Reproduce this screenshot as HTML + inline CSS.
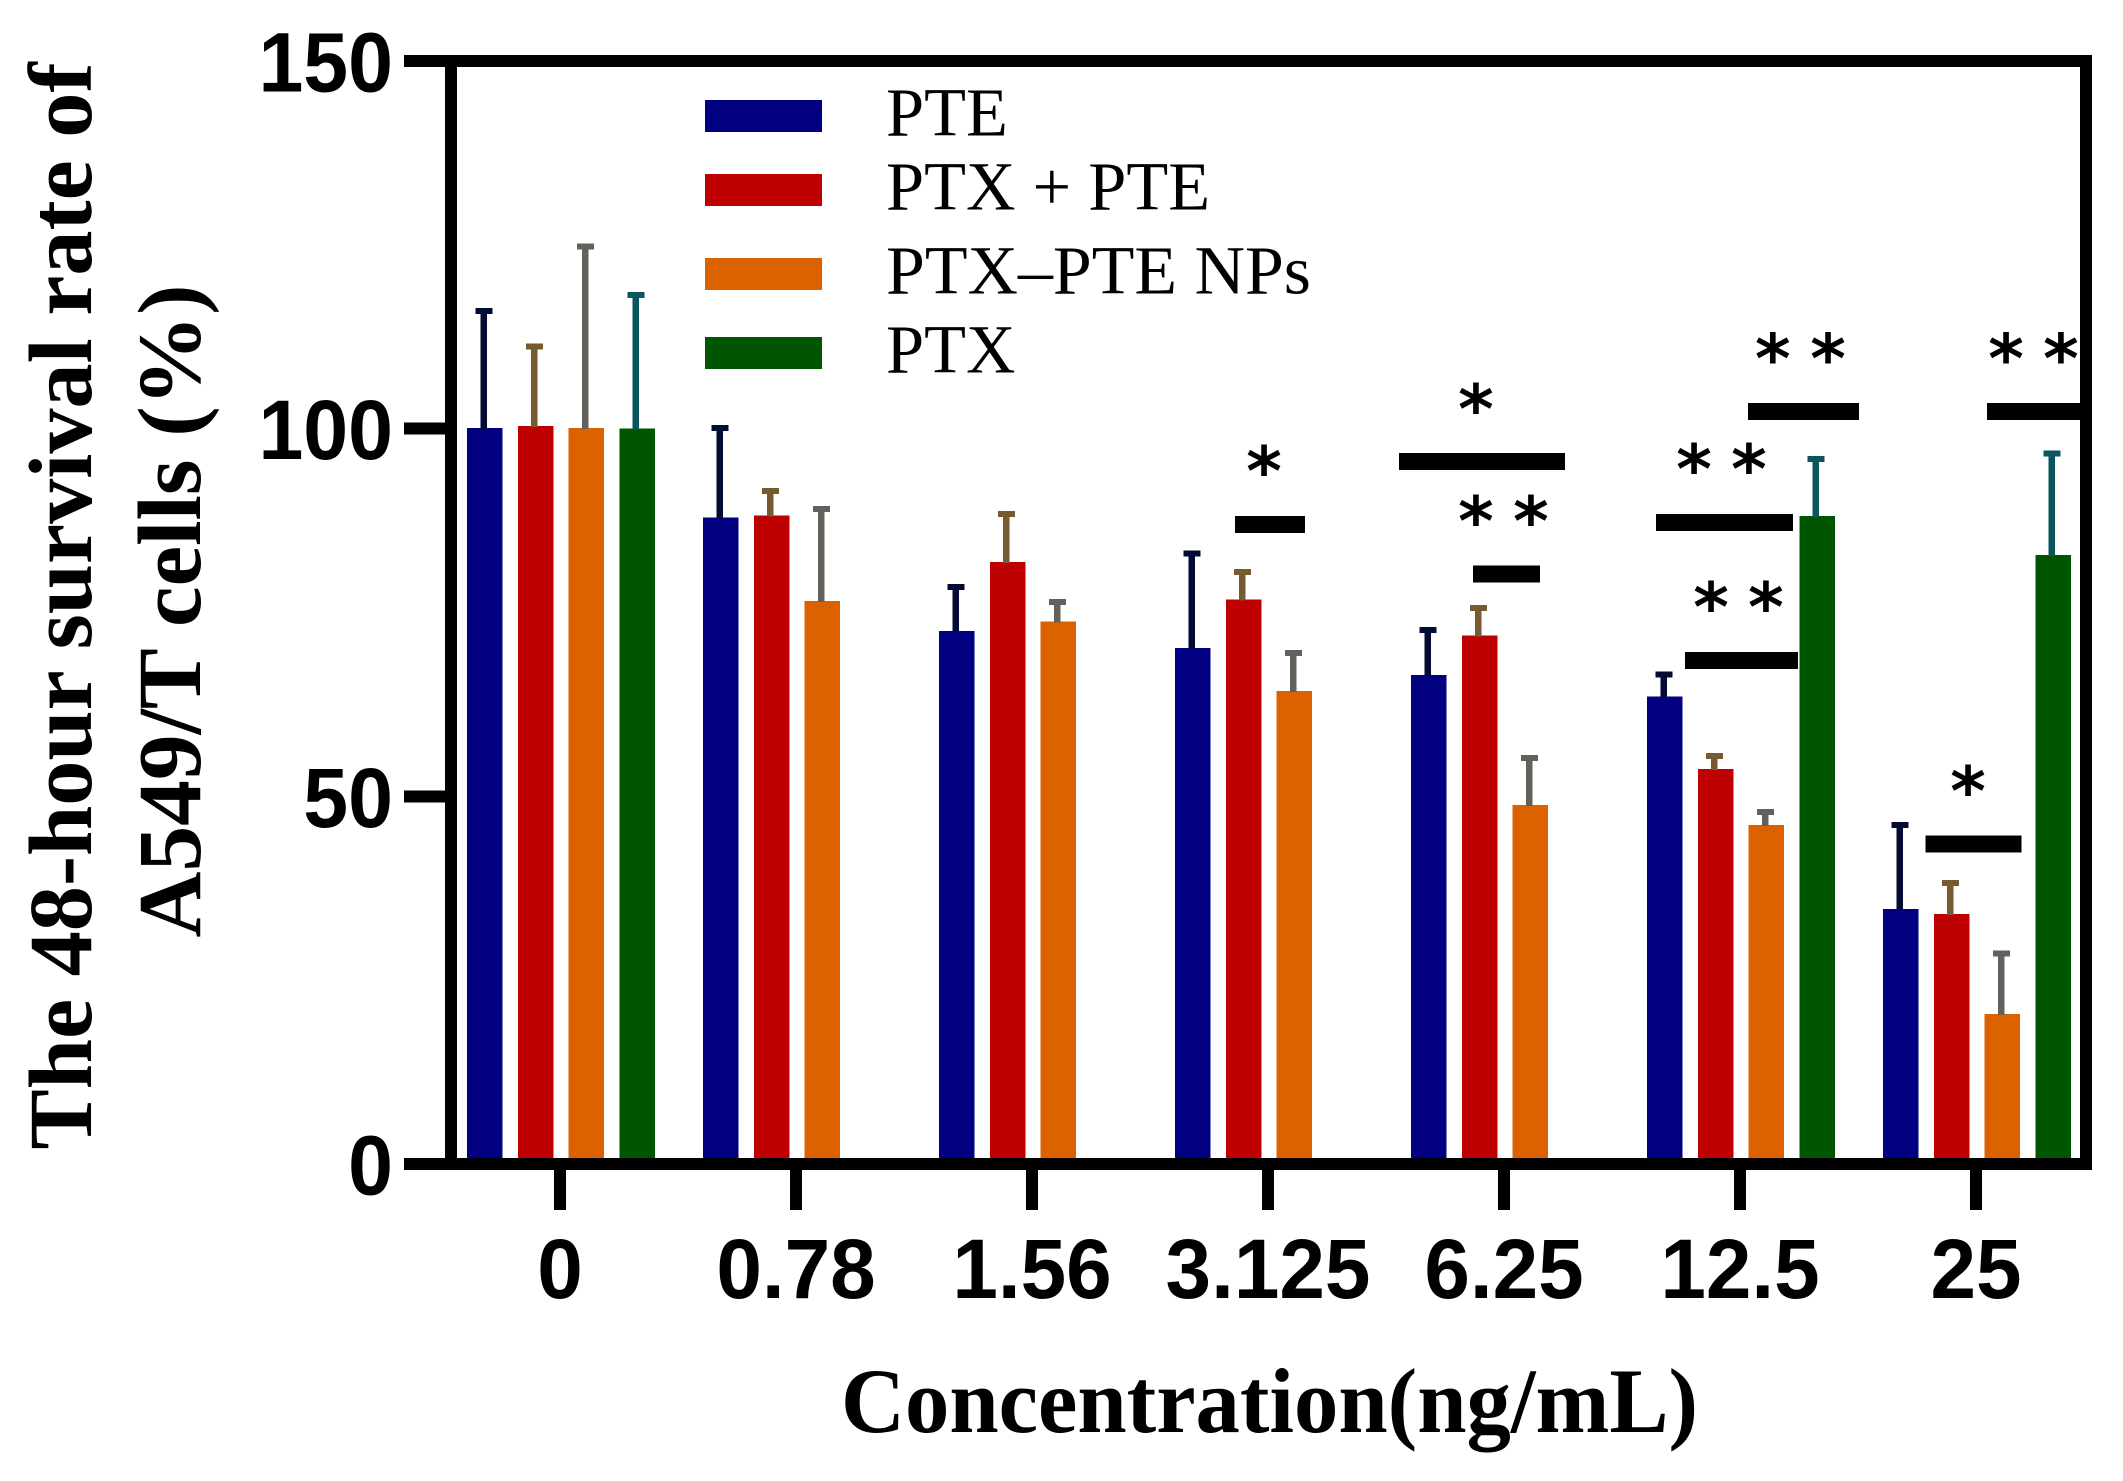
<!DOCTYPE html>
<html>
<head>
<meta charset="utf-8">
<title>48-hour survival rate of A549/T cells</title>
<style>
html,body{margin:0;padding:0;background:#fff;}
svg{display:block;}
rect{shape-rendering:crispEdges;}
.sans{font-family:"Liberation Sans",Arial,sans-serif;font-weight:700;}
.serif{font-family:"Liberation Serif","Times New Roman",serif;}
.star{font-family:"DejaVu Sans",sans-serif;font-weight:700;}
</style>
</head>
<body>
<svg id="chart" xmlns="http://www.w3.org/2000/svg" width="2123" height="1481" viewBox="0 0 2123 1481">
  <rect x="0" y="0" width="2123" height="1481" fill="#fff"/>
  <g id="bars"></g>
  <g id="annotations"></g>
  <g id="axes"></g>
  <g id="legend"></g>
  <text class="serif" font-weight="700" font-size="90" fill="#000" text-anchor="middle" textLength="1087" lengthAdjust="spacingAndGlyphs" transform="translate(91,606) rotate(-90)">The 48-hour survival rate of</text>
  <text class="serif" font-weight="700" font-size="90" fill="#000" text-anchor="middle" textLength="653" lengthAdjust="spacingAndGlyphs" transform="translate(200,611) rotate(-90)">A549/T cells (%)</text>
  <text class="serif" font-weight="700" font-size="92" fill="#000" x="841" y="1432" textLength="857" lengthAdjust="spacingAndGlyphs">Concentration(ng/mL)</text>
</svg>
<script>
// ---- chart data ----
const categories = ['0', '0.78', '1.56', '3.125', '6.25', '12.5', '25'];
const seriesNames = ['PTE', 'PTX + PTE', 'PTX\u2013PTE NPs', 'PTX'];
const pteValues = [100.1, 87.9, 72.5, 70.2, 66.5, 63.6, 34.7];
const pteErrors = [15.9, 12.2, 6.0, 12.8, 6.1, 3.0, 11.4];
const comboValues = [100.4, 88.2, 81.9, 76.8, 71.9, 53.7, 34.0];
const comboErrors = [10.8, 3.3, 6.5, 3.7, 3.7, 1.8, 4.2];
const npValues = [100.1, 76.6, 73.8, 64.3, 48.8, 46.1, 20.4];
const npErrors = [24.7, 12.5, 2.6, 5.2, 6.4, 1.8, 8.2];
const ptxValues = [100.0, null, null, null, null, 88.1, 82.8];
const ptxErrors = [18.2, null, null, null, null, 7.8, 13.8];
const yTickLabels = [0, 50, 100, 150];

// significance lines, in category units (x) and axis value units (y)
const sigLineStart = [2.860, 3.555, 3.869, 4.644, 4.767, 5.034, 6.047, 5.786];
const sigLineEnd = [3.157, 4.258, 4.153, 5.225, 5.246, 5.504, 6.449, 6.193];
const sigLineValue = [86.97, 95.54, 80.24, 87.24, 68.48, 102.34, 102.34, 43.52];
const sigStarCategory = [2.983, 3.881, 3.881, 4.114, 4.805, 5.038, 4.877, 5.110, 5.139, 5.373, 6.127, 6.360, 5.966];
const sigStarValue = [95.47, 103.9, 88.67, 88.67, 95.74, 95.74, 76.97, 76.97, 110.8, 110.8, 110.8, 110.8, 51.95];

// ---- axis functions ----
const SVGNS = 'http://www.w3.org/2000/svg';
const y0Px = 1164, pxPerUnit = 7.353;
const x0Px = 560, pxPerCategory = 236;
function yScale(v) { return y0Px - v * pxPerUnit; }
function xScale(c) { return x0Px + c * pxPerCategory; }
function barCenter(c, s) { return xScale(c) + (s - 1.5) * 50.7 + 1; }

function make(parent, tag, attrs, text) {
  const el = document.createElementNS(SVGNS, tag);
  for (const k in attrs) el.setAttribute(k, attrs[k]);
  if (text !== undefined) el.textContent = text;
  parent.appendChild(el);
  return el;
}

const seriesValues = [pteValues, comboValues, npValues, ptxValues];
const seriesErrors = [pteErrors, comboErrors, npErrors, ptxErrors];
const barColors = ['#000080', '#bf0000', '#dc6200', '#005500'];
const whiskerColors = ['#010b33', '#775a30', '#64605b', '#0b555e'];
const barGroup = document.getElementById('bars');
const annotationGroup = document.getElementById('annotations');
const axisGroup = document.getElementById('axes');
const legendGroup = document.getElementById('legend');

// ---- bars and error bars ----
const barWidth = 35.5;
seriesValues.forEach(function (vals, s) {
  vals.forEach(function (v, c) {
    if (v === null) return;
    const cx = barCenter(c, s);
    const top = yScale(v);
    const bar = make(barGroup, 'rect', {x: cx - barWidth / 2, y: top, width: barWidth, height: y0Px - top, fill: barColors[s]});
    
    
    const eTop = yScale(v + seriesErrors[s][c]);
    const whisker = make(barGroup, 'rect', {x: cx - 4.5, y: eTop, width: 6.5, height: top - eTop + 1, fill: whiskerColors[s]});
    
    
    const cap = make(barGroup, 'rect', {x: cx - 9.5, y: eTop - 3, width: 17, height: 6, fill: whiskerColors[s]});
    
    
  });
});

// ---- significance annotations ----
sigLineStart.forEach(function (start, i) {
  const x1 = xScale(start), x2 = xScale(sigLineEnd[i]), yc = yScale(sigLineValue[i]);
  const line = make(annotationGroup, 'rect', {x: x1, y: yc - 8.5, width: x2 - x1, height: 17, fill: '#000'});
  
  
});
sigStarCategory.forEach(function (c, i) {
  const star = make(annotationGroup, 'text', {x: xScale(c), y: yScale(sigStarValue[i]) + 33, 'text-anchor': 'middle', 'font-size': 68, 'class': 'star', fill: '#000'}, '*');
  
  
});

// ---- axes ----
function axisRect(x, y, w, h) {
  return make(axisGroup, 'rect', {x: x, y: y, width: w, height: h, fill: '#000'});
}
const topSpine = axisRect(404, yScale(150) - 6, 1688, 12);


const bottomSpine = axisRect(404, y0Px - 6, 1688, 12);


const leftSpine = axisRect(445, yScale(150), 12, y0Px - yScale(150));


const rightSpine = axisRect(2080, yScale(150), 12, y0Px - yScale(150));



yTickLabels.forEach(function (t) {
  const yy = yScale(t);
  const tick = axisRect(404, yy - 6, 42, 12);
  
  
  const label = make(axisGroup, 'text', {'class': 'sans', 'font-size': 84, 'text-anchor': 'end', fill: '#000', transform: 'translate(393,' + (yy + 30.5) + ') scale(.96,1)'}, String(t));
  
  
});
categories.forEach(function (name, c) {
  const xx = xScale(c);
  const tick = axisRect(xx - 6, y0Px, 12, 46);
  
  
  const label = make(axisGroup, 'text', {'class': 'sans', 'font-size': 84, 'text-anchor': 'middle', fill: '#000', transform: 'translate(' + xx + ',1298) scale(.975,1)'}, name);
  
  
});

// ---- legend ----
const legendRowTop = [100, 174, 258, 337];
seriesNames.forEach(function (name, s) {
  const swatch = make(legendGroup, 'rect', {x: 705, y: legendRowTop[s], width: 117, height: 32, fill: barColors[s]});
  
  
  const label = make(legendGroup, 'text', {x: 886, y: legendRowTop[s] + 35.5, 'class': 'serif', 'font-size': 68.5, fill: '#000'}, name);
  
  
  if (s === 2) label.setAttribute('textLength', '425');
  if (s === 2) label.setAttribute('lengthAdjust', 'spacingAndGlyphs');
});
</script>
</body>
</html>
